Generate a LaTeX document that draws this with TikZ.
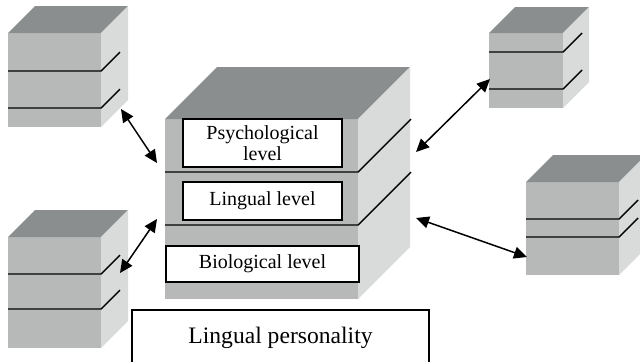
\documentclass[tikz,border=0pt]{standalone}
\usepackage{fontspec}
\setmainfont{Liberation Serif}
\usepackage{xcolor}
\usetikzlibrary{positioning, arrows.meta, calc}

\definecolor{frontgray}{HTML}{B7B9B9}
\definecolor{topgray}{HTML}{8B8E8E}
\definecolor{sidegray}{HTML}{D9DBDB}

\tikzset{
  levelline/.style={black, line width=0.7pt},
  levelbox/.style={draw, fill=white, line width=0.7pt, inner sep=0pt, align=center,
                   font=\fontsize{10}{10.5}\selectfont},
  linkarrow/.style={{Triangle[length=6.5pt,width=6pt]}-{Triangle[length=6.5pt,width=6pt]},
                    line width=0.75pt},
}

% x, y, width, height, depth, level lines, diagonal
\newcommand{\levelcube}[7]{%
  \fill[frontgray] (#1,#2) rectangle ++(#3,#4);
  \fill[topgray] (#1,#2) -- ++(#5,-#5) -- ++(#3,0) -- ++(-#5,#5) -- cycle;
  \fill[sidegray] (#1+#3,#2) -- ++(#5,-#5) -- ++(0,#4) -- ++(-#5,#5) -- cycle;
  \foreach \ly in {#6} {\draw[levelline] (#1,\ly) -- (#1+#3,\ly) -- ++(#7,-#7);}
}

\begin{document}
\begin{tikzpicture}[x=0.5pt,y=-0.5pt]
    \useasboundingbox (0,0) rectangle (640,361);
    \clip (0,0) rectangle (640,361);
    \levelcube{8}{33}{93}{94}{27}{71,108}{19}
    \levelcube{489}{33}{74}{75}{26}{52,89}{19}
    \levelcube{526}{182}{93}{93}{27}{219,237}{19}
    \levelcube{8}{237}{93}{111}{27}{274,309}{19}
    \levelcube{165}{119}{193}{180}{52}{172,225}{53}
    \node[levelbox, minimum width=79.5pt, minimum height=24pt] (psy) at (262.5,143) {Psychological\\level};
    \node[levelbox, minimum width=79.5pt, minimum height=19pt] (lin) at (262.5,201) {Lingual level};
    \node[levelbox, minimum width=96.5pt, minimum height=18pt] (bio) at (262.5,264) {Biological level};
    \node[draw, line width=0.7pt, inner sep=0pt, minimum width=148.5pt, minimum height=28pt,
          font=\fontsize{11.8}{13}\selectfont] (pers) at (280.5,338) {Lingual personality};
    \coordinate (tlA) at (121,109);
    \coordinate (tlB) at (157,163);
    \coordinate (blA) at (157,219);
    \coordinate (blB) at (120,273);
    \coordinate (trA) at (490,79);
    \coordinate (trB) at (416,152);
    \coordinate (brA) at (416,218);
    \coordinate (brB) at (527,257);
    \draw[linkarrow] (tlA) -- (tlB);
    \draw[linkarrow] (blA) -- (blB);
    \draw[linkarrow] (trA) -- (trB);
    \draw[linkarrow] (brA) -- (brB);
\end{tikzpicture}
\end{document}
